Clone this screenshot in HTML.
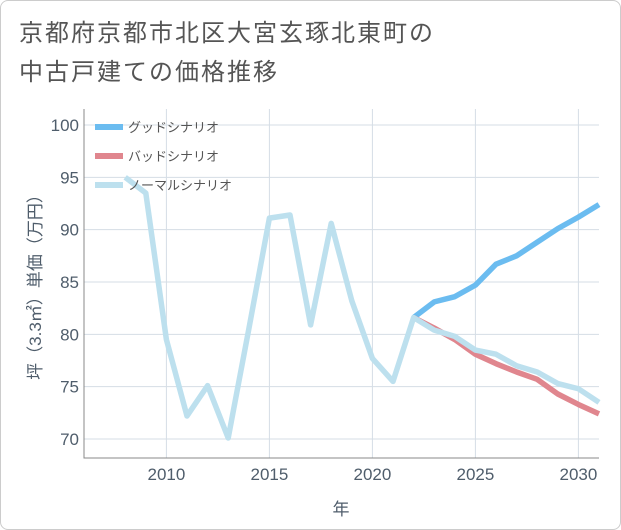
<!DOCTYPE html>
<html><head><meta charset="utf-8"><style>
body{margin:0;background:#fff;}
#w{position:relative;width:619px;height:528px;border:1px solid #ccc;border-radius:8px;overflow:hidden;font-family:"Liberation Sans","Noto Sans CJK JP",sans-serif;}
.t{position:absolute;left:18px;color:#555;font-size:24px;letter-spacing:2px;}
</style></head><body>
<div id="w">
<div class="t" style="top:12px">京都府京都市北区大宮玄琢北東町の</div>
<div class="t" style="top:51px">中古戸建ての価格推移</div>
<svg id="s" width="621" height="530" style="position:absolute;left:0;top:0"></svg>
</div>
<script>
const years=[2008,2009,2010,2011,2012,2013,2014,2015,2016,2017,2018,2019,2020,2021,2022,2023,2024,2025,2026,2027,2028,2029,2030,2031];
const normal=[95,93.5,79.5,72.2,75.1,70.1,80.5,91.1,91.4,80.9,90.6,83.2,77.7,75.5,81.6,80.4,79.8,78.5,78.1,77.0,76.4,75.3,74.8,73.5];
const fYears=[2022,2023,2024,2025,2026,2027,2028,2029,2030,2031];
const good=[81.6,83.1,83.6,84.7,86.7,87.5,88.8,90.1,91.2,92.4];
const bad=[81.6,80.6,79.5,78.1,77.2,76.4,75.7,74.3,73.3,72.4];
const yTicks=[70,75,80,85,90,95,100];
const xTicks=[2010,2015,2020,2025,2030];
const L=83,R=598,T=108,B=457;
const x=v=>L+(v-2006)/(2031-2006)*(R-L);
const y=v=>438-(v-70)/30*(438-124);
const s=document.getElementById('s');const NS='http://www.w3.org/2000/svg';
function el(t,a,p){const e=document.createElementNS(NS,t);for(const k in a)e.setAttribute(k,a[k]);(p||s).appendChild(e);return e;}
yTicks.forEach(v=>{const g=el('line',{x1:L,x2:R,y1:y(v),y2:y(v),stroke:'#d5dde5'});
const t=el('text',{x:L-5,y:y(v)+6,'text-anchor':'end','font-size':17,fill:'#4f5d6b'});t.textContent=v;});
xTicks.forEach(v=>{const g=el('line',{x1:x(v),x2:x(v),y1:T,y2:B,stroke:'#d5dde5'});
const t=el('text',{x:x(v),y:479,'text-anchor':'middle','font-size':17,fill:'#4f5d6b'});t.textContent=v;});
const ax=el('path',{d:`M${L},${T}V${B}H${R}`,stroke:'#888',fill:'none'});
function line(xs,vs,c,n){const p=el('polyline',{points:xs.map((v,i)=>x(v)+','+y(vs[i])).join(' '),fill:'none',stroke:c,'stroke-width':5.5,'stroke-linejoin':'round'});}
line(fYears,good,'#6bbcf0','good-scenario-line');
line(fYears,bad,'#e0868e','bad-scenario-line');
line(years,normal,'#bde0ee','normal-scenario-line');
[['グッドシナリオ','#6bbcf0'],['バッドシナリオ','#e0868e'],['ノーマルシナリオ','#bde0ee']].forEach((d,i)=>{const yy=126+i*29;
const l=el('line',{x1:94,x2:122,y1:yy,y2:yy,stroke:d[1],'stroke-width':6});
const t=el('text',{x:127,y:yy+5,'font-size':13,fill:'#555'});t.textContent=d[0];});
const yl=el('text',{x:0,y:0,'font-size':17,fill:'#4f5d6b','text-anchor':'middle',transform:`translate(40,282) rotate(-90)`});yl.textContent='坪（3.3㎡）単価（万円）';
const xl=el('text',{x:340,y:514,'font-size':17,fill:'#4f5d6b','text-anchor':'middle'});xl.textContent='年';
</script>
</body></html>
